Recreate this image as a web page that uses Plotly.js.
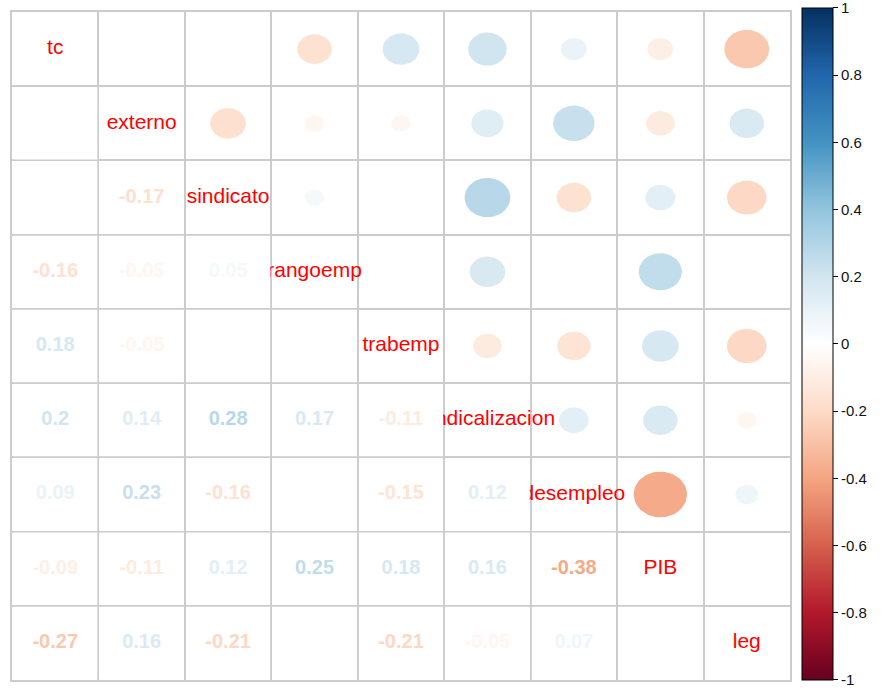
<!DOCTYPE html>
<html>
<head>
<meta charset="utf-8">
<script src="https://cdn.plot.ly/plotly-3.0.1.min.js"></script>
<style>
html,body{margin:0;padding:0;background:#fff;}
#chart{width:882px;height:688px;}
</style>
</head>
<body>
<div id="chart"></div>
<script>
// Variable names (diagonal labels)
const vars = ['tc','externo','sindicato','rangoemp','trabemp','sindicalizacion','desempleo','PIB','leg'];

// Lower-triangle correlations, row by row (row variable vs earlier variables)
const r_externo = [0];
const r_sindicato = [0, -0.17];
const r_rangoemp = [-0.16, -0.05, 0.05];
const r_trabemp = [0.18, -0.05, 0, 0];
const r_sindicalizacion = [0.2, 0.14, 0.28, 0.17, -0.11];
const r_desempleo = [0.09, 0.23, -0.16, 0, -0.15, 0.12];
const r_PIB = [-0.09, -0.11, 0.12, 0.25, 0.18, 0.16, -0.38];
const r_leg = [-0.27, 0.16, -0.21, 0, -0.21, -0.05, 0.07, 0];

// Colour palette (RdBu, -1 .. 1)
const palette = ['#67001F','#B2182B','#D6604D','#F4A582','#FDDBC7','#FFFFFF','#D1E5F0','#92C5DE','#4393C3','#2166AC','#053061'];
const cbTickVals = [-1,-0.8,-0.6,-0.4,-0.2,0,0.2,0.4,0.6,0.8,1];
const cbTickText = ['-1','-0.8','-0.6','-0.4','-0.2','0','0.2','0.4','0.6','0.8','1'];

const lower = [[], r_externo, r_sindicato, r_rangoemp, r_trabemp, r_sindicalizacion, r_desempleo, r_PIB, r_leg];
const n = vars.length;

function hex2rgb(h){return [parseInt(h.substr(1,2),16),parseInt(h.substr(3,2),16),parseInt(h.substr(5,2),16)];}
function colorOf(v){
  let p = (v+1)/2*(palette.length-1);
  if(p<0)p=0; if(p>palette.length-1)p=palette.length-1;
  const i = Math.min(Math.floor(p), palette.length-2);
  const t = p-i;
  const a = hex2rgb(palette[i]), b = hex2rgb(palette[i+1]);
  const c = a.map((x,k)=>Math.round(x+(b[k]-x)*t));
  return 'rgb('+c.join(',')+')';
}

const traces = [];

// Upper triangle: ellipses (area proportional to |r|)
for(let i=0;i<n;i++){
  for(let j=i+1;j<n;j++){
    const v = lower[j][i];
    if(v===0) continue;
    const rad = Math.sqrt(Math.abs(v))/2;
    const xs=[], ys=[];
    for(let k=0;k<=72;k++){
      const a = k/72*2*Math.PI;
      xs.push((j+1)+rad*Math.cos(a));
      ys.push((i+1)+rad*Math.sin(a));
    }
    traces.push({type:'scatter',mode:'lines',x:xs,y:ys,fill:'toself',
      fillcolor:colorOf(v),line:{width:0,color:colorOf(v)},hoverinfo:'skip',showlegend:false});
  }
}

// Diagonal labels
traces.push({type:'scatter',mode:'text',
  x:vars.map((_,k)=>k+1), y:vars.map((_,k)=>k+1), text:vars,
  textposition:'middle center',
  textfont:{family:'Liberation Sans, Arial, sans-serif',size:21,color:'#FF0000'},
  hoverinfo:'skip',showlegend:false, cliponaxis:false});

// White backgrounds of lower cells (clip overflowing labels)
const inset = 0.013;
const wx=[], wy=[];
for(let i=1;i<n;i++){
  for(let j=0;j<i;j++){
    const cx=j+1, cy=i+1;
    wx.push(cx-0.5+inset,cx+0.5-inset,cx+0.5-inset,cx-0.5+inset,cx-0.5+inset,null);
    wy.push(cy-0.5+inset,cy-0.5+inset,cy+0.5-inset,cy+0.5-inset,cy-0.5+inset,null);
  }
}
traces.push({type:'scatter',mode:'lines',x:wx,y:wy,fill:'toself',fillcolor:'#FFFFFF',
  line:{width:0,color:'#FFFFFF'},hoverinfo:'skip',showlegend:false});

// Lower triangle numbers (zero correlations are drawn in white, i.e. invisible)
const nx=[],ny=[],nt=[],nc=[];
for(let i=1;i<n;i++){
  for(let j=0;j<i;j++){
    const v = lower[i][j];
    nx.push(j+1); ny.push(i+1); nt.push(String(v)); nc.push(colorOf(v));
  }
}
traces.push({type:'scatter',mode:'text',x:nx,y:ny,text:nt,textposition:'middle center',
  textfont:{family:'Liberation Sans, Arial, sans-serif',size:20,color:nc,weight:'bold'},
  hoverinfo:'skip',showlegend:false});

// Colour bar carrier
traces.push({type:'scatter',mode:'markers',x:[1,1],y:[1,1],hoverinfo:'skip',showlegend:false,
  marker:{size:0,opacity:0,color:[-1,1],cmin:-1,cmax:1,
    colorscale:palette.map((c,k)=>[k/(palette.length-1),c]),
    showscale:true,
    colorbar:{x:1.0154,xanchor:'left',y:0.503,yanchor:'middle',
      len:672,lenmode:'pixels',thickness:31,thicknessmode:'pixels',
      xpad:0,ypad:0,outlinewidth:1,outlinecolor:'#000000',
      tickmode:'array',tickvals:cbTickVals,ticktext:cbTickText,
      ticks:'outside',ticklen:5,tickcolor:'#000000',ticklabeloverflow:'allow',
      tickfont:{family:'Liberation Sans, Arial, sans-serif',size:15,color:'#111111'}}}});

const tv=[]; for(let k=0;k<=n;k++) tv.push(k+0.5);
const axisCommon = {tickmode:'array',tickvals:tv,showticklabels:false,ticks:'',
  showgrid:true,gridcolor:'#cccccc',gridwidth:2,zeroline:false,
  showline:true,mirror:true,linecolor:'#cccccc',linewidth:2,fixedrange:true};

const layout = {
  width:882,height:688,
  margin:{l:12,r:92,t:12,b:8},
  paper_bgcolor:'#ffffff',plot_bgcolor:'#ffffff',
  xaxis:Object.assign({range:[0.5,n+0.5]},axisCommon),
  yaxis:Object.assign({range:[n+0.5,0.5]},axisCommon),
  showlegend:false
};

Plotly.newPlot('chart',traces,layout,{displayModeBar:false,staticPlot:true});
</script>
</body>
</html>
